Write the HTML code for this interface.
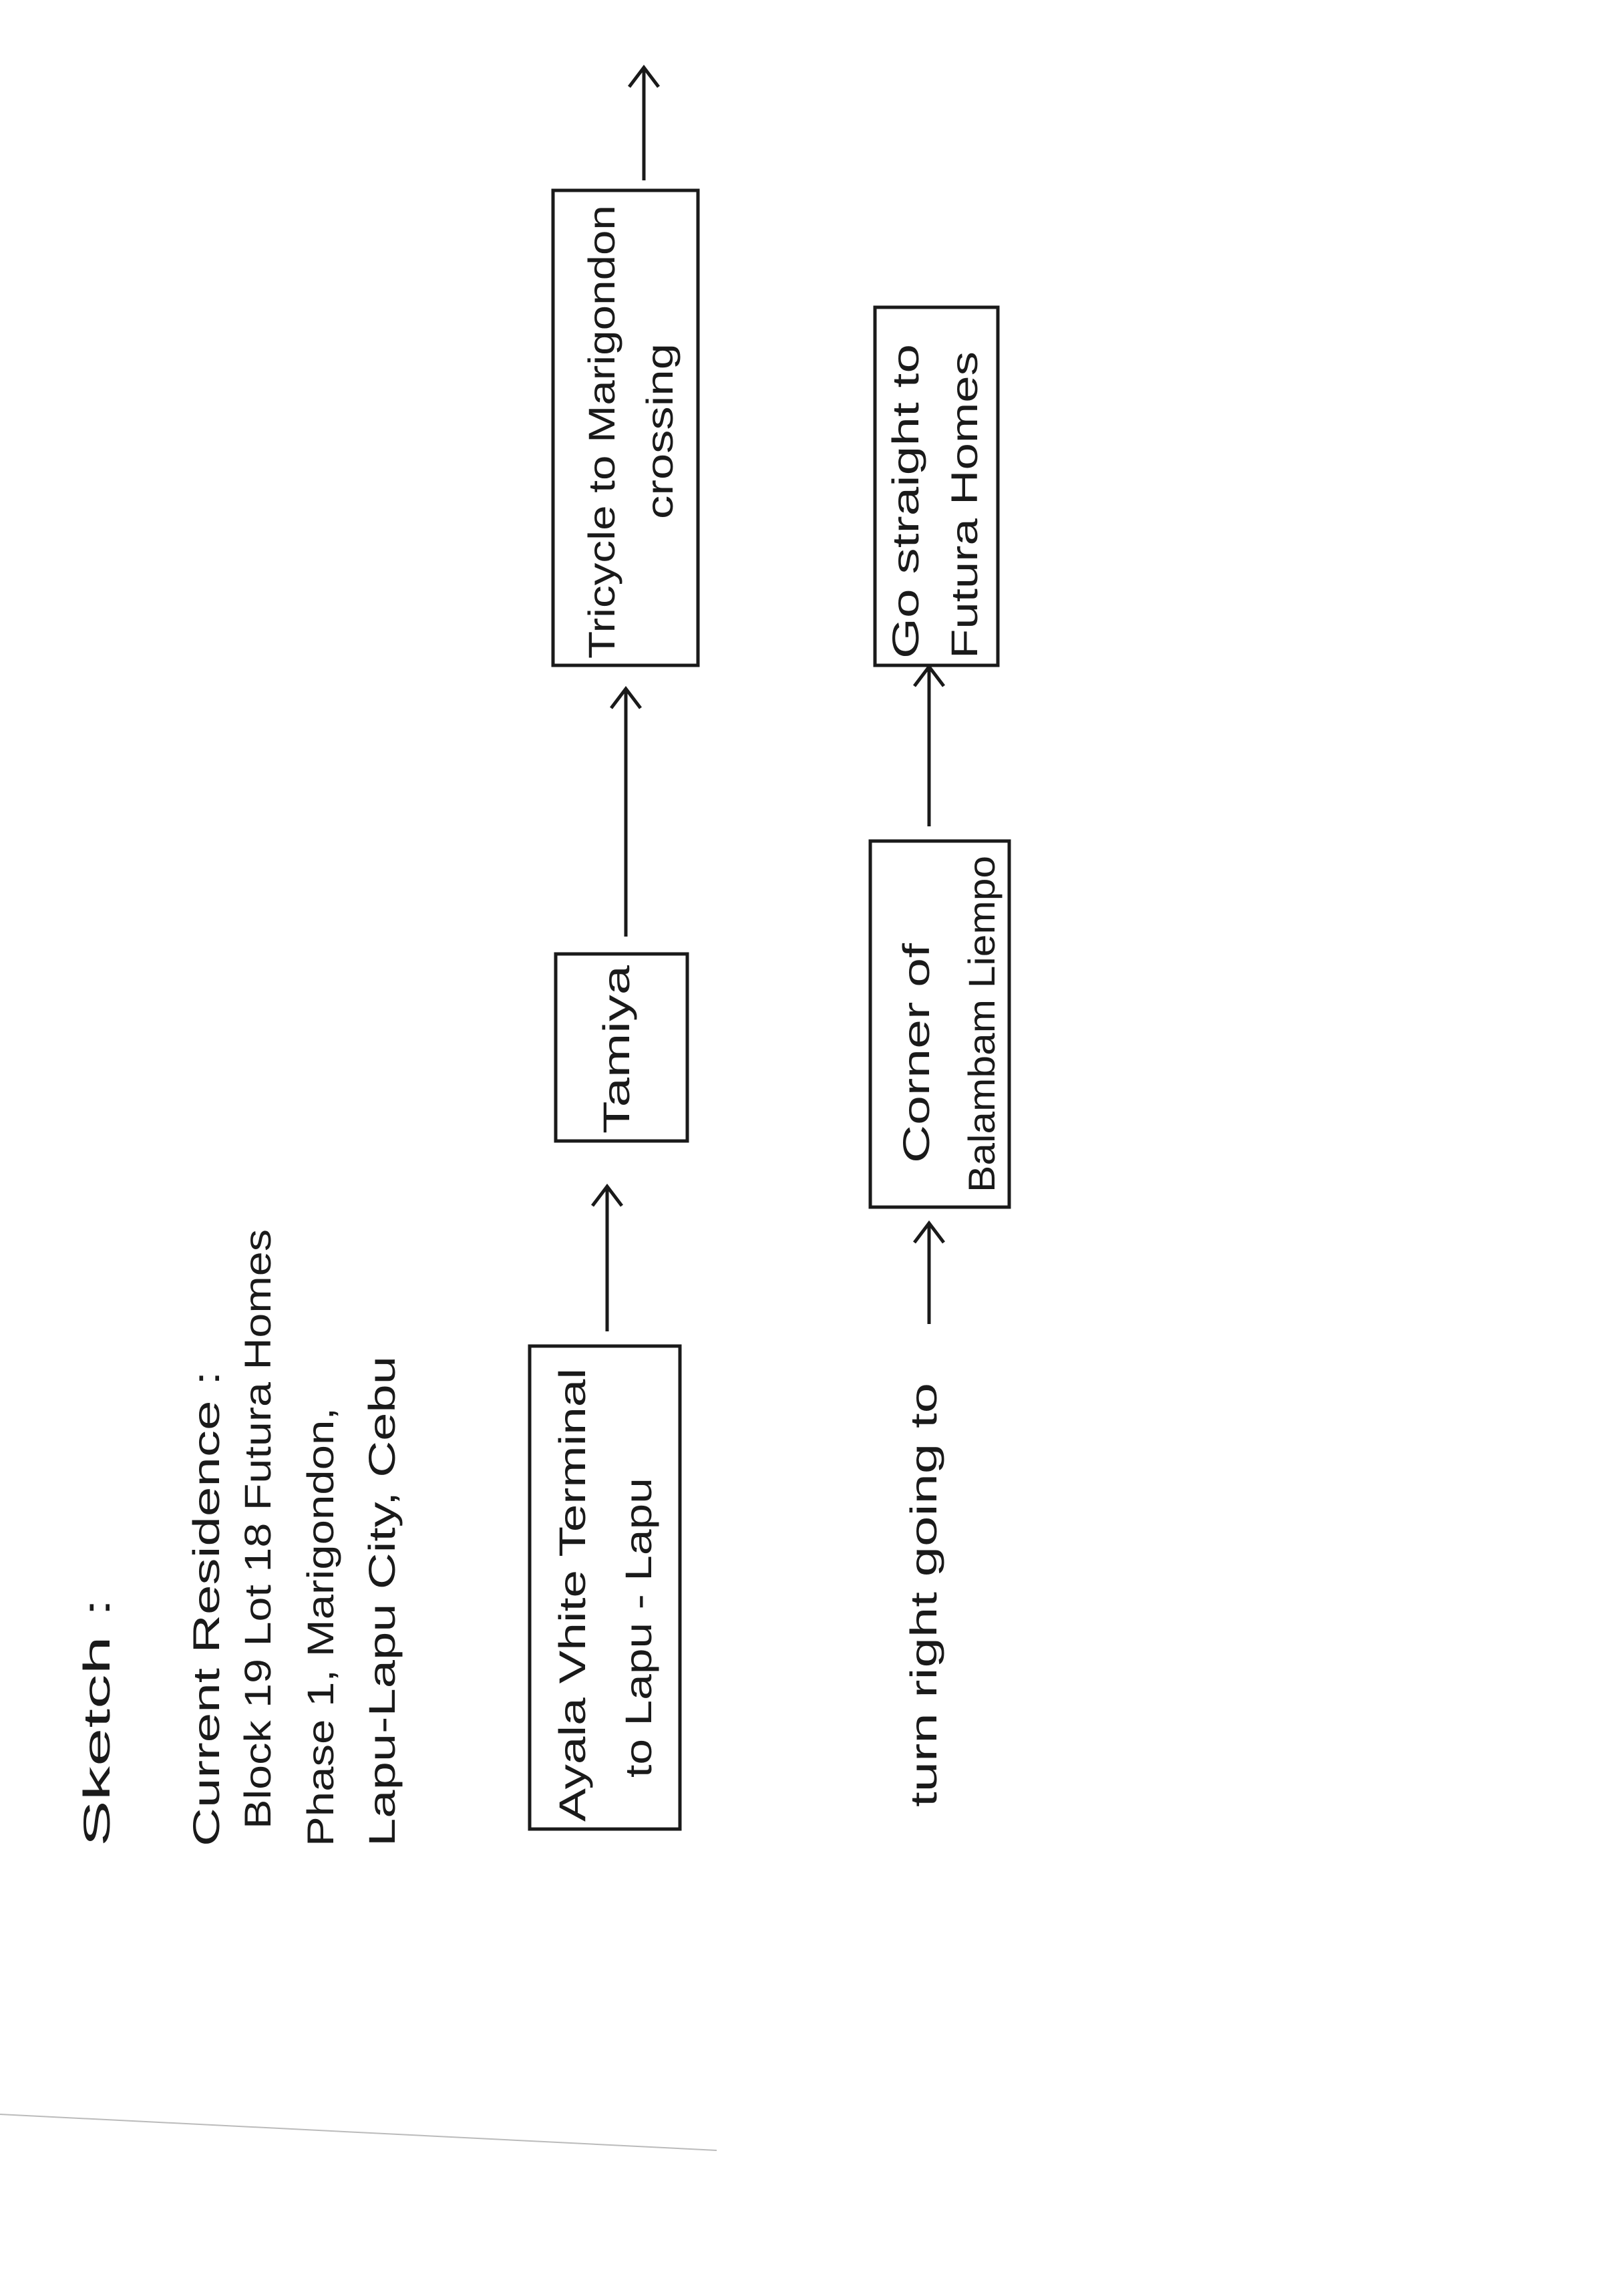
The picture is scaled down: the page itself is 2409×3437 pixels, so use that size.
<!DOCTYPE html>
<html><head><meta charset="utf-8"><style>
html,body{margin:0;padding:0;background:#fff;}
svg{display:block;}
text{font-family:"Liberation Sans",sans-serif;fill:#1a1a1a;font-size:56px;}
</style></head><body>
<svg width="2409" height="3437" viewBox="0 0 2409 3437" xmlns="http://www.w3.org/2000/svg">
<rect width="2409" height="3437" fill="#fff"/>
<g stroke="#1a1a1a" stroke-width="5" fill="none">
<rect x="793" y="2015" width="225" height="723"/>
<rect x="832" y="1428" width="197" height="280"/>
<rect x="828" y="285" width="217" height="711"/>
<rect x="1303" y="1259" width="208" height="548"/>
<rect x="1310" y="460" width="184" height="536"/>
<line x1="909" y1="1993" x2="909" y2="1778"/><polyline points="887,1805 909,1776 931,1805"/>
<line x1="937" y1="1402" x2="937" y2="1033"/><polyline points="915,1060 937,1031 959,1060"/>
<line x1="964" y1="270" x2="964" y2="103"/><polyline points="942,130 964,101 986,130"/>
<line x1="1391" y1="1982" x2="1391" y2="1833"/><polyline points="1369,1860 1391,1831 1413,1860"/>
<line x1="1391" y1="1237" x2="1391" y2="1000"/><polyline points="1369,1027 1391,998 1413,1027"/>
</g>
<line x1="0" y1="3165" x2="1073" y2="3219" stroke="#bbb" stroke-width="2"/>
<text transform="translate(164,2764) rotate(-90)" textLength="372" lengthAdjust="spacingAndGlyphs">Sketch :</text>
<text transform="translate(328,2764) rotate(-90)" textLength="712" lengthAdjust="spacingAndGlyphs">Current Residence :</text>
<text transform="translate(405,2738) rotate(-90)" textLength="898" lengthAdjust="spacingAndGlyphs">Block 19 Lot 18 Futura Homes</text>
<text transform="translate(499,2764) rotate(-90)" textLength="657" lengthAdjust="spacingAndGlyphs">Phase 1, Marigondon,</text>
<text transform="translate(591,2764) rotate(-90)" textLength="734" lengthAdjust="spacingAndGlyphs">Lapu-Lapu City, Cebu</text>
<text transform="translate(876,2727) rotate(-90)" textLength="679" lengthAdjust="spacingAndGlyphs">Ayala Vhite Terminal</text>
<text transform="translate(975,2661) rotate(-90)" textLength="449" lengthAdjust="spacingAndGlyphs">to Lapu - Lapu</text>
<text transform="translate(942,1697) rotate(-90)" textLength="252" lengthAdjust="spacingAndGlyphs">Tamiya</text>
<text transform="translate(920,986) rotate(-90)" textLength="679" lengthAdjust="spacingAndGlyphs">Tricycle to Marigondon</text>
<text transform="translate(1007,777) rotate(-90)" textLength="263" lengthAdjust="spacingAndGlyphs">crossing</text>
<text transform="translate(1402,2705) rotate(-90)" textLength="635" lengthAdjust="spacingAndGlyphs">turn right going to</text>
<text transform="translate(1391,1741) rotate(-90)" textLength="329" lengthAdjust="spacingAndGlyphs">Corner of</text>
<text transform="translate(1489,1785) rotate(-90)" textLength="504" lengthAdjust="spacingAndGlyphs">Balambam Liempo</text>
<text transform="translate(1375,986) rotate(-90)" textLength="471" lengthAdjust="spacingAndGlyphs">Go straight to</text>
<text transform="translate(1463,986) rotate(-90)" textLength="460" lengthAdjust="spacingAndGlyphs">Futura Homes</text>
</svg>
</body></html>
